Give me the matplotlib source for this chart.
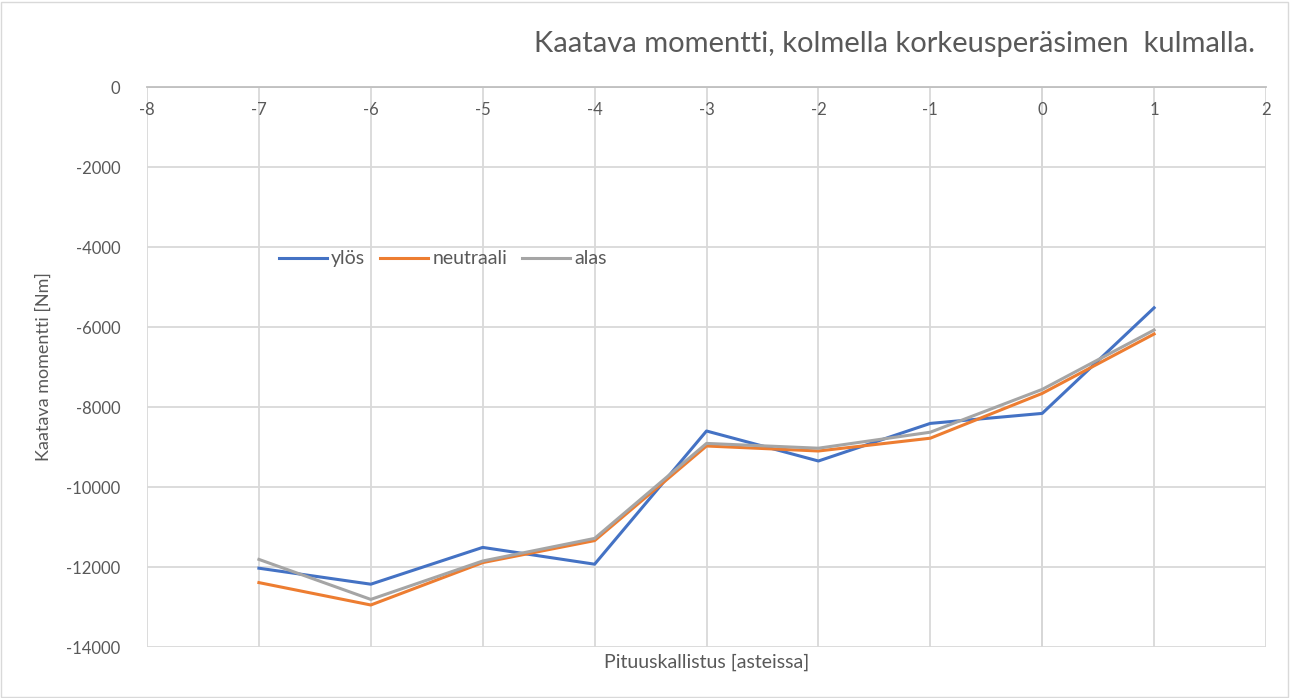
import numpy as np
import matplotlib.pyplot as plt
from matplotlib.patches import Rectangle

plt.rcParams['font.family'] = ['Lato', 'DejaVu Sans']
plt.rcParams['axes.unicode_minus'] = False

# Data
kallistus = [-7, -6, -5, -4, -3, -2, -1, 0, 1]
ylos = [-12030, -12430, -11510, -11930, -8600, -9350, -8410, -8160, -5520]
neutraali = [-12390, -12950, -11890, -11340, -8975, -9100, -8780, -7660, -6175]
alas = [-11810, -12810, -11850, -11285, -8910, -9030, -8630, -7560, -6075]

series = [
    ("ylös", ylos, "#4472C4"),
    ("neutraali", neutraali, "#ED7D31"),
    ("alas", alas, "#A5A5A5"),
]

fig = plt.figure(figsize=(12.91, 6.98), dpi=100)
ax = fig.add_axes([147 / 1291, 1 - 647 / 698, (1266 - 147) / 1291, (647 - 87) / 698])

for name, vals, col in series:
    ax.plot(kallistus, vals, color=col, linewidth=2.2, label=name, zorder=3)

ax.set_xlim(-8, 2)
ax.set_ylim(-14000, 0)
ax.set_xticks(np.arange(-8, 3, 1))
ax.set_yticks(np.arange(-14000, 1, 2000))
ax.grid(True, color="#d9d9d9", linewidth=1.3, zorder=0)

# axes cross at (0, 0) like in Excel
for s in ["top", "right", "left"]:
    ax.spines[s].set_visible(False)
ax.spines["bottom"].set_position(("data", 0))
ax.spines["bottom"].set_color("#bfbfbf")
ax.spines["bottom"].set_linewidth(1.3)
ax.axvline(0, color="#bfbfbf", linewidth=1.3, zorder=1)

ax.tick_params(axis="x", length=0, pad=11, labelsize=12, labelcolor="#595959")
ax.tick_params(axis="y", length=0, pad=19, labelsize=12, labelcolor="#595959")

ax.set_xlabel("Pituuskallistus [asteissa]", fontsize=14, color="#595959")
ax.xaxis.set_label_coords(0.5, -0.012)
ax.xaxis.label.set_va("top")
ax.set_ylabel("Kaatava momentti [Nm]", fontsize=13, color="#595959")
ax.yaxis.set_label_coords(-0.085, 0.5)

fig.text(0.972, 0.937, "Kaatava momentti, kolmella korkeusperäsimen  kulmalla.",
         ha="right", va="center", fontsize=21, color="#595959")

ax.legend(loc="center left", bbox_to_anchor=(0.102, 0.693), ncol=3, frameon=False,
          fontsize=14, labelcolor="#595959", handlelength=2.5, columnspacing=0.75,
          handletextpad=0.2)

fig.patches.append(Rectangle((0.001, 0.002), 0.997, 0.995, transform=fig.transFigure,
                             fill=False, edgecolor="#d9d9d9", linewidth=1))

fig.savefig("out.png", dpi=100)
